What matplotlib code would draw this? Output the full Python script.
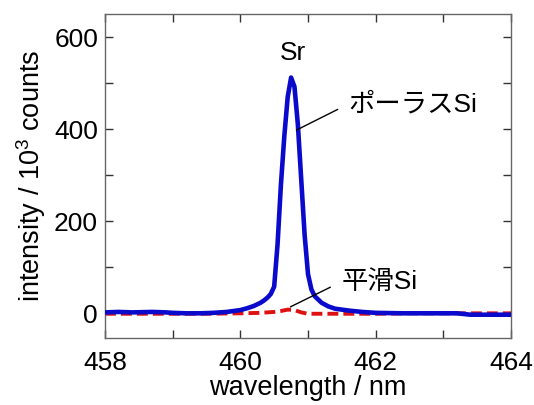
import numpy as np
import matplotlib
matplotlib.use('Agg')
import matplotlib.pyplot as plt

plt.rcParams['font.family'] = ['Liberation Sans', 'Noto Sans CJK JP', 'DejaVu Sans']
plt.rcParams['mathtext.fontset'] = 'custom'
plt.rcParams['mathtext.rm'] = 'Liberation Sans'

# porous Si spectrum
porous_wl = [458.0, 458.2, 458.4, 458.7, 458.9, 459.0, 459.2, 459.4, 459.6, 459.8,
             460.0, 460.1, 460.2, 460.3, 460.35, 460.4, 460.45, 460.5, 460.55, 460.6,
             460.65, 460.7, 460.75, 460.8, 460.85, 460.9, 460.95, 461.0, 461.05, 461.1,
             461.2, 461.3, 461.4, 461.6, 461.8, 462.0, 462.4, 462.8, 463.2, 463.4,
             463.6, 464.0]
porous_int = [2, 3, 2, 3, 2, 1, 0, 0, 1, 3,
              7, 11, 16, 23, 28, 34, 42, 58, 150, 280,
              385, 470, 512, 492, 410, 290, 170, 85, 52, 37,
              23, 15, 10, 6, 3, 1, 0, 0, 0, -3,
              -3, -3]

# smooth Si spectrum
smooth_wl = [458.0, 458.5, 459.0, 459.5, 460.0, 460.3, 460.5, 460.6, 460.7, 460.8,
             460.9, 461.0, 461.5, 462.0, 462.5, 463.0, 463.5, 464.0]
smooth_int = [-1, -1, -1, -1, 0, 1, 3, 5, 8, 7,
              2, -1, -1, -1, 0, 0, 0, 0]

fig, ax = plt.subplots(figsize=(5.34, 4.05), dpi=100)
fig.subplots_adjust(left=0.1966, right=0.957, top=0.9654, bottom=0.165)

ax.plot(smooth_wl, smooth_int, color='#dd1111', lw=2.8, dashes=(2.8, 1.3), zorder=2)
ax.plot(porous_wl, porous_int, color='#0a0acc', lw=3.3, zorder=3)

ax.set_xlim(458, 464)
ax.set_ylim(-54, 650)
ax.set_xticks([458, 460, 462, 464])
ax.set_xticks([459, 461, 463], minor=True)
ax.set_yticks([0, 200, 400, 600])
ax.set_yticks([100, 300, 500], minor=True)
ax.tick_params(which='both', direction='in', top=True, right=True,
               length=6, width=1, labelsize=19, color='#333333')
ax.tick_params(axis='x', which='major', pad=9)
ax.tick_params(axis='y', which='major', pad=5)
for s in ax.spines.values():
    s.set_color('#666666')
    s.set_linewidth(1)

ax.set_xlabel('wavelength / nm', fontsize=19.5, labelpad=0)
ax.set_ylabel('intensity / 10$^3$ counts', fontsize=19.5, labelpad=4)

ax.text(460.78, 551, 'Sr', fontsize=19, ha='center', va='baseline')
ax.annotate('ポーラスSi', xy=(460.83, 398), xytext=(461.59, 454),
            fontsize=19, va='center', ha='left',
            arrowprops=dict(arrowstyle='-', color='black', lw=1,
                            shrinkA=6, shrinkB=0, relpos=(0, 0.5)))
ax.annotate('平滑Si', xy=(460.74, 14), xytext=(461.5, 69),
            fontsize=19, va='center', ha='left',
            arrowprops=dict(arrowstyle='-', color='black', lw=1,
                            shrinkA=7, shrinkB=0, relpos=(0, 0.5)))

fig.savefig('out.png', dpi=100)
